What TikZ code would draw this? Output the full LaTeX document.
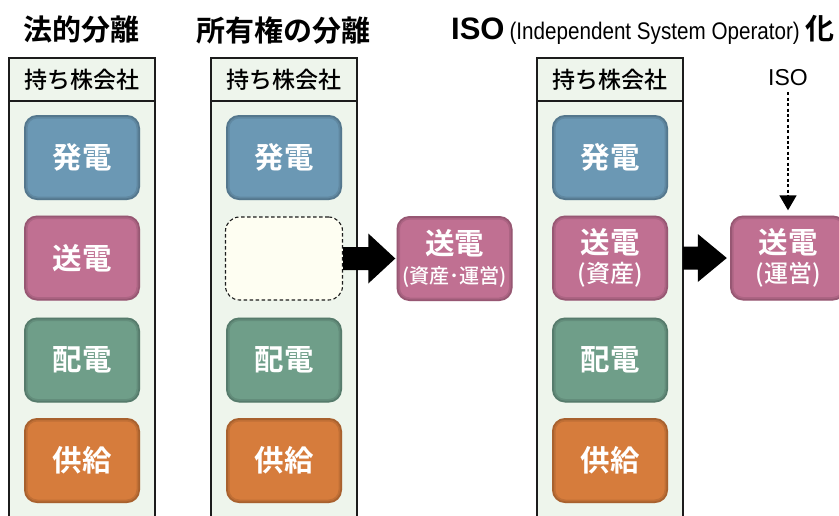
\documentclass[tikz,border=0pt]{standalone}
\usepackage{fontspec}
\setmainfont{Noto Sans CJK JP}[BoldFont={Noto Sans CJK JP Bold}]
\newfontfamily\cjkmed{Noto Sans CJK JP Medium}
\newfontfamily\latin{Liberation Sans}
\usetikzlibrary{calc,arrows.meta}

\definecolor{genblue}{RGB}{107,152,180}
\definecolor{trpink}{RGB}{192,112,146}
\definecolor{disgreen}{RGB}{111,158,137}
\definecolor{suporange}{RGB}{214,124,60}
\definecolor{colfill}{RGB}{238,245,236}
\definecolor{voidfill}{RGB}{254,254,242}
\definecolor{edge}{RGB}{28,28,28}

\newcommand\subline[1]{{\cjkmed\mdseries\fontsize{24}{25}\selectfont #1}}

\tikzset{
  colbody/.style={draw=edge, line width=1.8pt, fill=colfill, minimum width=146pt,
    minimum height=420pt, inner sep=0pt},
  header/.style={draw=edge, line width=1.8pt, fill=colfill, minimum width=146pt,
    minimum height=43pt, inner sep=0pt, font=\cjkmed\fontsize{23}{25}\selectfont},
  unit/.style={rounded corners=13pt, minimum width=116pt, minimum height=85pt,
    inner sep=0pt, text=white, align=center,
    font=\fontsize{29.5}{32}\bfseries\selectfont,
    path picture={
      \draw[black, opacity=0.10, line width=7pt, rounded corners=13pt]
        (path picture bounding box.south west) rectangle (path picture bounding box.north east);
      \draw[black, opacity=0.12, line width=3.5pt, rounded corners=13pt]
        (path picture bounding box.south west) rectangle (path picture bounding box.north east);
    }},
  gen/.style={unit, fill=genblue},
  trans/.style={unit, fill=trpink},
  dist/.style={unit, fill=disgreen},
  supply/.style={unit, fill=suporange},
  vacant/.style={rounded corners=14pt, minimum width=117pt, minimum height=83pt,
    inner sep=0pt, fill=voidfill, draw=edge, line width=1.1pt,
    dash pattern=on 3.5pt off 2.5pt},
  title/.style={inner sep=0pt, font=\fontsize{29}{31}\bfseries\selectfont},
  blockarrow/.style={fill=black},
  isoarrow/.style={draw=black, line width=1.6pt, dash pattern=on 3pt off 2.4pt,
    -{Triangle[length=15pt,width=17pt]}}
}

\begin{document}
\begin{tikzpicture}[x=1pt,y=-1pt]
\useasboundingbox (0,0) rectangle (839,515);
\clip (0,0) rectangle (839,515);

% headings
\node[title] (ttlA) at (81.5,30) {法的分離};
\node[title] (ttlB) at (283.5,30) {所有権の分離};
\node[title, anchor=west] (ttlC) at (451,30)
  {{\latin\fontsize{31}{33}\selectfont ISO}\hspace{5pt}{\latin\fontsize{24}{26}\mdseries\selectfont\scalebox{0.86}[1]{(Independent System Operator)}}\hspace{6pt}化};

% holding-company columns
\node[colbody] (colA) at (82,311) {};
\node[header] (hdrA) at (82,79.5) {持ち株会社};
\node[colbody] (colB) at (284,311) {};
\node[header] (hdrB) at (284,79.5) {持ち株会社};
\node[colbody] (colC) at (610,311) {};
\node[header] (hdrC) at (610,79.5) {持ち株会社};

% legal separation
\node[gen]    (a1) at (82,157.5) {発電};
\node[trans]  (a2) at (82,258)   {送電};
\node[dist]   (a3) at (82,360)   {配電};
\node[supply] (a4) at (82,460.5) {供給};

% ownership separation
\node[gen]    (b1) at (284,157.5) {発電};
\node[vacant] (b2) at (284,258.5) {};
\node[dist]   (b3) at (284,360)   {配電};
\node[supply] (b4) at (284,460.5) {供給};
\node[trans]  (t2) at (454.5,258.5) {送電\\[-3pt]\subline{\resizebox{105pt}{!}{(資産･運営)}}};

% ISO model
\node[gen]    (c1) at (610,157.5) {発電};
\node[trans]  (c2) at (610,258)   {送電\\[-3pt]\subline{(資産)}};
\node[dist]   (c3) at (610,360)   {配電};
\node[supply] (c4) at (610,460.5) {供給};
\node[trans]  (t3) at (788,258)   {送電\\[-3pt]\subline{(運営)}};

\node[inner sep=0pt, font=\latin\fontsize{23}{24}\selectfont] (isolbl) at (788,78) {ISO};

% connectors
\fill[blockarrow] ($(b2.east)+(0,-11.5)$) -- ($(t2.west)+(-28,-11.5)$)
  -- ($(t2.west)+(-28,-25)$) -- ($(t2.west)+(-1,0)$) -- ($(t2.west)+(-28,25)$)
  -- ($(t2.west)+(-28,11.5)$) -- ($(b2.east)+(0,11.5)$) -- cycle;
\coordinate (cout) at (colC.east |- c2.east);
\fill[blockarrow] ($(cout)+(-1,-11.5)$) -- ($(t3.west)+(-32,-11.5)$)
  -- ($(t3.west)+(-32,-24)$) -- ($(t3.west)+(-3,0)$) -- ($(t3.west)+(-32,24)$)
  -- ($(t3.west)+(-32,11.5)$) -- ($(cout)+(-1,11.5)$) -- cycle;
\draw[isoarrow, shorten <=6pt, shorten >=5pt] (isolbl.south) -- (t3.north);
\end{tikzpicture}
\end{document}
